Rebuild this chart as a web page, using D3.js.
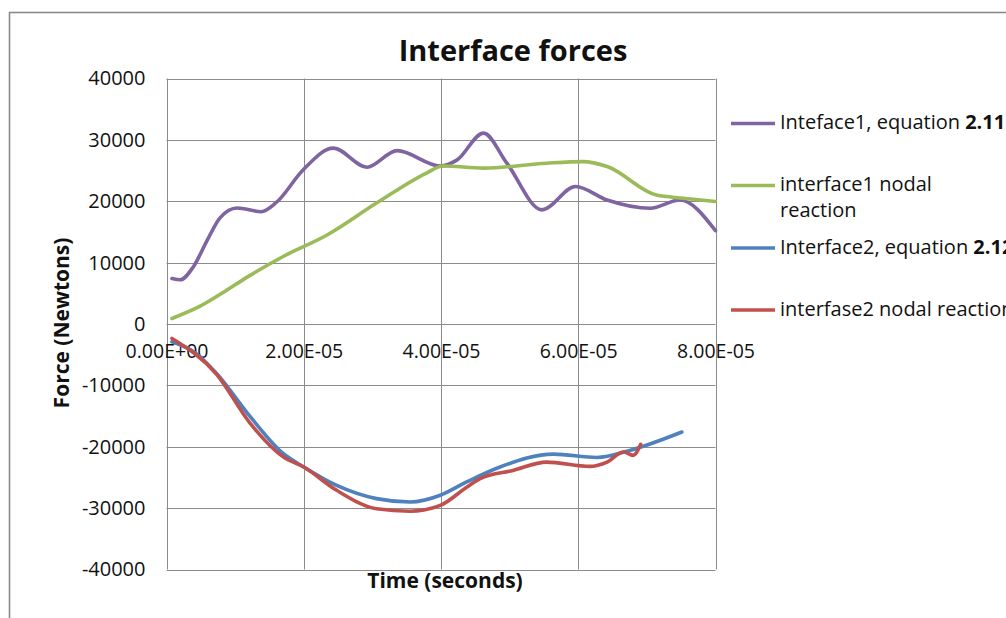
<!DOCTYPE html>
<html><head><meta charset="utf-8">
<script src="https://cdn.jsdelivr.net/npm/d3@7"></script>
<style>
body{margin:0;background:#fff;}
svg{display:block;font-family:"Open Sans",sans-serif;}
</style></head>
<body><svg id="chart" width="1006" height="618"></svg>
<script>
// ---- data ----
const xTicks = [0, 2e-5, 4e-5, 6e-5, 8e-5];
const xTickLabels = ["0.00E+00","2.00E-05","4.00E-05","6.00E-05","8.00E-05"];
const yTicks = [-40000,-30000,-20000,-10000,0,10000,20000,30000,40000];
const yTickLabels = ["-40000","-30000","-20000","-10000","0","10000","20000","30000","40000"];

// time in seconds
const t1 = [0.8e-6,2.0e-6,3.9e-6,6.0e-6,7.8e-6,10.3e-6,13.8e-6,16.0e-6,19.9e-6,24.3e-6,29.2e-6,33.6e-6,39.9e-6,42.3e-6,46.2e-6,49.6e-6,54.7e-6,59.6e-6,64.2e-6,70.5e-6,74.8e-6,80.0e-6];
const inteface1 = [7400,7200,9300,13800,17300,18900,18300,19800,25100,28650,25550,28250,25750,26700,31100,26200,18600,22400,20200,18850,20200,15200];

const t2 = [0.8e-6,4.9e-6,8.5e-6,11.7e-6,17.0e-6,23.4e-6,30.6e-6,37.9e-6,40.3e-6,46.2e-6,55.4e-6,60.7e-6,64.2e-6,71.4e-6,75.3e-6,80.0e-6];
const interface1Nodal = [900,2900,5300,7600,11000,14500,19700,24600,25750,25400,26200,26450,25650,21000,20500,19950];

const t3 = [0.8e-6,4.2e-6,7.3e-6,12.2e-6,17.0e-6,20.0e-6,24.8e-6,30.6e-6,35.5e-6,39.9e-6,43.8e-6,48.6e-6,56.4e-6,62.7e-6,67.5e-6,75.1e-6];
const interface2 = [-2900,-4700,-8060,-15100,-21100,-23300,-26300,-28450,-29000,-27900,-25700,-23300,-21200,-21750,-20600,-17600];

const t4 = [0.8e-6,7.3e-6,12.2e-6,17.0e-6,20.0e-6,24.8e-6,30.6e-6,35.5e-6,39.9e-6,43.8e-6,45.7e-6,50.5e-6,55.4e-6,61.7e-6,64.2e-6,66.6e-6,68.0e-6,69.1e-6];
const interfase2Nodal = [-2350,-8200,-16200,-21650,-23300,-27100,-30100,-30500,-29550,-26550,-25200,-23850,-22500,-23200,-22500,-20850,-21400,-19600];

const seriesNames = ["Inteface1, equation ", "interface1 nodal", "Interface2, equation ", "interfase2 nodal reaction"];
const seriesBold = ["2.11", "", "2.12", ""];
const colors = ["#8064A2","#9BBB59","#4F81BD","#C0504D"];

// ---- drawing ----
const svg = d3.select("#chart");
svg.append("rect").attr("width",1006).attr("height",618).attr("fill","#fff");
svg.append("rect").attr("x",9.5).attr("y",12.5).attr("width",1200).attr("height",800)
  .attr("fill","none").attr("stroke","#8a8a8a").attr("stroke-width",1.6);

const x = d3.scaleLinear().domain([0,8e-5]).range([166.5,715.5]);
const y = d3.scaleLinear().domain([-40000,40000]).range([569.5,78.5]);

const grid = svg.append("g").attr("stroke","#8c8c8c").attr("stroke-width",1);
grid.selectAll(".v").data(xTicks).join("line")
  .attr("x1",d=>Math.round(x(d))+0.5).attr("x2",d=>Math.round(x(d))+0.5)
  .attr("y1",y(40000)).attr("y2",y(-40000));
grid.selectAll(".h").data(yTicks).join("line")
  .attr("y1",d=>Math.round(y(d))+0.5).attr("y2",d=>Math.round(y(d))+0.5)
  .attr("x1",x(0)).attr("x2",x(8e-5));

// y axis labels
const yAxis = d3.axisLeft(y).tickValues(yTicks).tickSize(0).tickPadding(21)
  .tickFormat((d,i)=>yTickLabels[i]);
const gy = svg.append("g").attr("transform",`translate(${x(0)},0)`).call(yAxis);
gy.select(".domain").remove();
gy.selectAll("text").attr("font-size",20).attr("fill","#111").attr("font-family","'Open Sans',sans-serif");

// x axis labels at zero line
const xAxis = d3.axisBottom(x).tickValues(xTicks).tickSize(0).tickPadding(20)
  .tickFormat((d,i)=>xTickLabels[i]);
const gx = svg.append("g").attr("transform",`translate(0,${y(0)})`).call(xAxis);
gx.select(".domain").remove();
gx.selectAll("text").attr("font-size",19.5).attr("fill","#111").attr("font-family","'Open Sans',sans-serif");

// lines
const datasets = [[t1,inteface1],[t2,interface1Nodal],[t3,interface2],[t4,interfase2Nodal]];
const line = d3.line().x(d=>x(d[0])).y(d=>y(d[1])).curve(d3.curveMonotoneX);
datasets.forEach((ds,i)=>{
  const pts = ds[0].map((t,j)=>[t,ds[1][j]]);
  svg.append("path").datum(pts).attr("d",line).attr("fill","none")
    .attr("stroke",colors[i]).attr("stroke-width",3.6).attr("stroke-linecap","round").attr("stroke-linejoin","round");
});

// title
svg.append("text").attr("x",513).attr("y",61).attr("text-anchor","middle")
  .attr("font-size",29).attr("font-weight","bold").attr("fill","#111").text("Interface forces");
// axis titles
svg.append("text").attr("transform","translate(69,323) rotate(-90)").attr("text-anchor","middle")
  .attr("font-size",21).attr("font-weight","bold").attr("fill","#111").text("Force (Newtons)");
svg.append("text").attr("x",445).attr("y",588).attr("text-anchor","middle")
  .attr("font-size",21).attr("font-weight","bold").attr("fill","#111").text("Time (seconds)");

// legend
const legY = [123.5,185.5,248,310];
const leg = svg.append("g");
seriesNames.forEach((n,i)=>{
  leg.append("line").attr("x1",731).attr("x2",775).attr("y1",legY[i]).attr("y2",legY[i])
    .attr("stroke",colors[i]).attr("stroke-width",3.6);
  const tx = leg.append("text").attr("x",780).attr("y",legY[i]+5.5).attr("font-size",20).attr("fill","#111");
  tx.append("tspan").text(n);
  if (seriesBold[i]) tx.append("tspan").attr("font-weight","bold").text(seriesBold[i]);
});
leg.append("text").attr("x",780).attr("y",legY[1]+31.5).attr("font-size",20).attr("fill","#111").text("reaction");
</script></body></html>
